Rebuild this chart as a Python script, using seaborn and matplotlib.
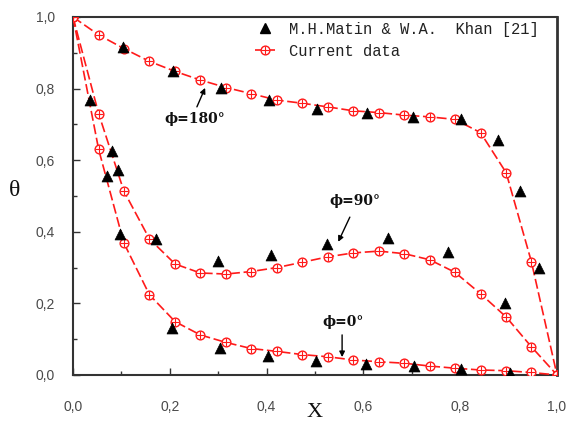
import matplotlib
matplotlib.use("Agg")
import matplotlib.pyplot as plt
import numpy as np
import pandas as pd
import seaborn as sns
from matplotlib.lines import Line2D
from matplotlib.ticker import MultipleLocator, FuncFormatter

# ---------------- data ----------------
x_current = [0.0, 0.053, 0.105, 0.158, 0.211, 0.263, 0.316, 0.368, 0.421, 0.474,
             0.526, 0.579, 0.632, 0.684, 0.737, 0.789, 0.842, 0.895, 0.947, 1.0]
cur_phi0 = [1.0, 0.630, 0.369, 0.224, 0.149, 0.112, 0.091, 0.074, 0.066, 0.057,
            0.051, 0.042, 0.037, 0.033, 0.025, 0.019, 0.014, 0.012, 0.007, 0.0]
cur_phi90 = [1.0, 0.730, 0.514, 0.380, 0.310, 0.285, 0.282, 0.289, 0.300, 0.315,
             0.330, 0.341, 0.346, 0.339, 0.322, 0.287, 0.227, 0.162, 0.079, 0.0]
cur_phi180 = [1.0, 0.950, 0.912, 0.876, 0.848, 0.824, 0.803, 0.786, 0.768, 0.759,
              0.749, 0.738, 0.733, 0.726, 0.721, 0.714, 0.677, 0.565, 0.317, 0.0]

ref_x_phi0 = [0.035, 0.070, 0.098, 0.204, 0.304, 0.402, 0.503, 0.605, 0.705, 0.802, 0.903]
ref_y_phi0 = [0.768, 0.557, 0.394, 0.131, 0.075, 0.053, 0.040, 0.030, 0.025, 0.016, 0.006]
ref_x_phi90 = [0.080, 0.094, 0.171, 0.300, 0.410, 0.525, 0.650, 0.775, 0.893]
ref_y_phi90 = [0.626, 0.574, 0.380, 0.318, 0.335, 0.367, 0.382, 0.343, 0.201]
ref_x_phi180 = [0.104, 0.207, 0.306, 0.404, 0.505, 0.607, 0.703, 0.802, 0.879, 0.924, 0.962]
ref_y_phi180 = [0.915, 0.850, 0.803, 0.768, 0.744, 0.733, 0.722, 0.714, 0.656, 0.513, 0.299]

legend_labels = ["M.H.Matin & W.A.  Khan [21]", "Current data"]
curve_labels = ["ϕ=180°", "ϕ=90°", "ϕ=0°"]

# ---------------- style ----------------
sns.set_style("ticks")
plt.rcParams["font.family"] = ["Liberation Sans", "DejaVu Sans"]

fig = plt.figure(figsize=(5.74, 4.30), dpi=100)
ax = fig.add_axes([73 / 574, 1 - 375 / 430, (557 - 73) / 574, (375 - 17) / 430])

RED = "#ff1a1a"
dash = (0, (6, 2.2))

cur = pd.DataFrame({"X": x_current * 3,
                    "theta": cur_phi0 + cur_phi90 + cur_phi180,
                    "case": ["0"] * 20 + ["90"] * 20 + ["180"] * 20})
for case in ["0", "90", "180"]:
    d = cur[cur["case"] == case]
    sns.lineplot(data=d, x="X", y="theta", ax=ax, sort=False, color=RED, lw=1.2,
                 linestyle=dash, marker="o", markersize=6.3, markerfacecolor="white",
                 markeredgecolor=RED, markeredgewidth=1.0, zorder=3, legend=False)
    sns.scatterplot(data=d, x="X", y="theta", ax=ax, marker="+", s=28, color=RED,
                    linewidth=0.8, zorder=4, legend=False)

for rx, ry in [(ref_x_phi0, ref_y_phi0), (ref_x_phi90, ref_y_phi90), (ref_x_phi180, ref_y_phi180)]:
    sns.scatterplot(x=rx, y=ry, ax=ax, marker="^", s=62, color="black",
                    edgecolor="black", linewidth=0.5, zorder=5, legend=False)

# ---------------- axes ----------------
ax.set_xlim(0, 1)
ax.set_ylim(0, 1)
ax.xaxis.set_major_locator(MultipleLocator(0.2))
ax.xaxis.set_minor_locator(MultipleLocator(0.1))
ax.yaxis.set_major_locator(MultipleLocator(0.2))
ax.yaxis.set_minor_locator(MultipleLocator(0.1))
fmt = FuncFormatter(lambda v, p: f"{v:.1f}".replace(".", ","))
ax.xaxis.set_major_formatter(fmt)
ax.yaxis.set_major_formatter(fmt)
ax.tick_params(which="both", direction="in", color="#333333", width=1.0,
               top=False, right=False, labelsize=10, labelcolor="#4a4a4a")
ax.tick_params(which="major", length=5)
ax.tick_params(which="minor", length=3)
ax.tick_params(axis="x", pad=18)
ax.tick_params(axis="y", pad=13)
for s in ax.spines.values():
    s.set_visible(True)
    s.set_color("#333333")
    s.set_linewidth(1.5)
ax.spines["right"].set_linewidth(2.0)

ax.set_xlabel("X", fontsize=16, family=["Liberation Serif", "DejaVu Serif"], color="#111111")
ax.set_ylabel("θ", fontsize=17, family=["Liberation Serif", "DejaVu Serif"], rotation=0,
              color="#111111")
ax.xaxis.set_label_coords(0.5, -0.077)
ax.yaxis.set_label_coords(-0.12, 0.515)
ax.yaxis.label.set_verticalalignment("center")
ax.yaxis.label.set_horizontalalignment("center")

# ---------------- annotations ----------------
ann_font = dict(fontsize=10, fontweight="bold", family=["DejaVu Serif", "Liberation Serif"],
                ha="center", va="center", color="#111111")
ax.text(0.252, 0.715, curve_labels[0], **ann_font)
ax.text(0.583, 0.486, curve_labels[1], **ann_font)
ax.text(0.558, 0.148, curve_labels[2], **ann_font)
arrow = dict(arrowstyle="-|>", color="black", lw=1.0, mutation_scale=8,
             shrinkA=0, shrinkB=0)
ax.annotate("", xy=(0.273, 0.802), xytext=(0.256, 0.749), arrowprops=arrow, zorder=6)
ax.annotate("", xy=(0.548, 0.372), xytext=(0.572, 0.441), arrowprops=arrow, zorder=6)
ax.annotate("", xy=(0.556, 0.050), xytext=(0.556, 0.112), arrowprops=arrow, zorder=6)

# ---------------- legend ----------------
h_tri = Line2D([], [], ls="none", marker="^", color="black", markersize=7.5)
h_line = Line2D([], [], color=RED, lw=1.2, ls=dash, marker="o", markersize=6.3,
                markerfacecolor="white", markeredgecolor=RED, markeredgewidth=1.0)
h_plus = Line2D([], [], ls="none", marker="+", color=RED, markersize=5.5, markeredgewidth=0.8)
leg = ax.legend([h_tri, (h_line, h_plus)], legend_labels, loc="upper left",
                bbox_to_anchor=(0.37, 0.995), frameon=False, handlelength=1.3,
                handletextpad=0.9, labelspacing=0.45, borderaxespad=0, borderpad=0.2,
                prop={"family": ["Liberation Mono", "DejaVu Sans Mono"], "size": 11.2})
for t in leg.get_texts():
    t.set_color("#222222")

fig.savefig("out.png", dpi=100)
